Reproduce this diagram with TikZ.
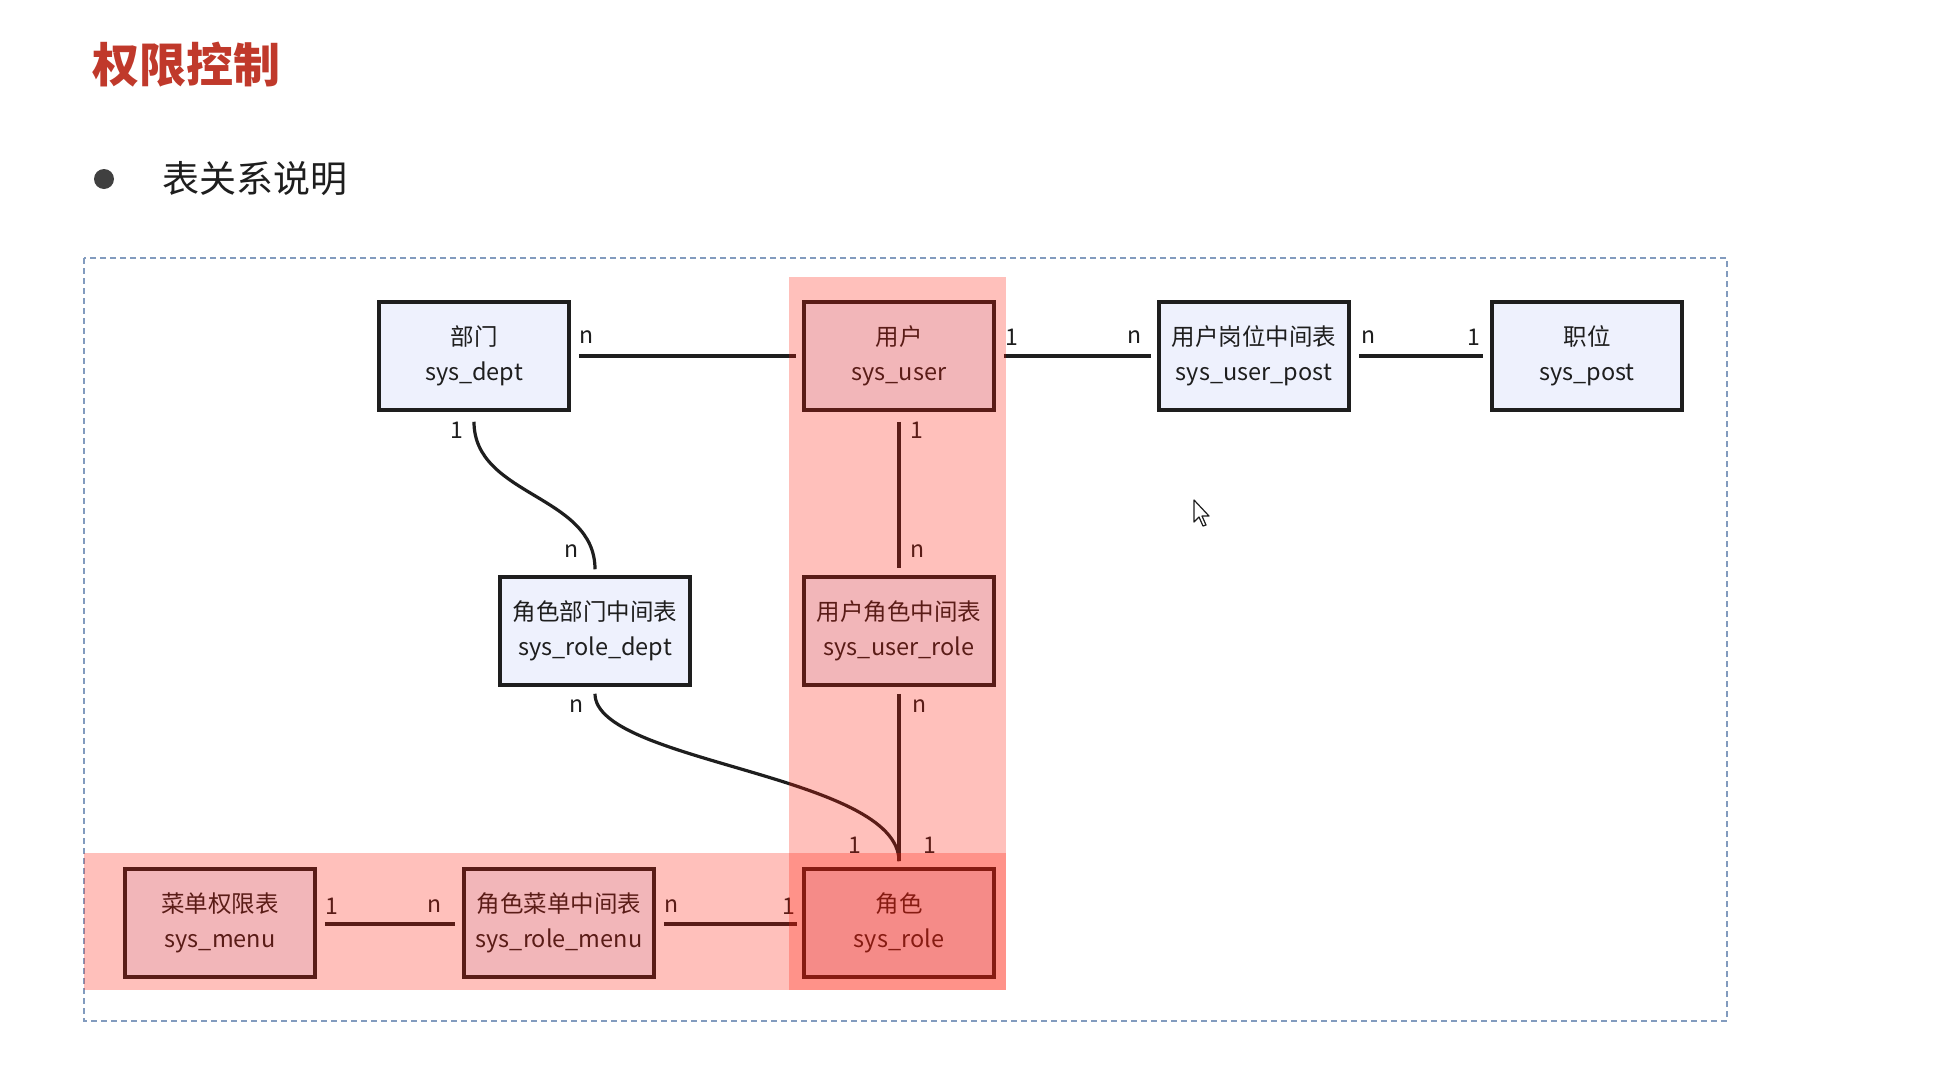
\documentclass[tikz,border=0pt]{standalone}
\usepackage{fontspec}
\setmainfont{Noto Sans CJK SC}
\newfontfamily\cjk{Noto Sans CJK SC}
\usetikzlibrary{calc}
\definecolor{boxblue}{RGB}{238,241,253}
\definecolor{titlered}{RGB}{192,57,43}
\definecolor{dashblue}{RGB}{130,155,190}
\definecolor{ink}{RGB}{30,30,30}
\definecolor{hired}{RGB}{255,25,5}
\tikzset{
  tbl/.style={draw=ink, line width=3.5pt, fill=boxblue, minimum width=190pt, minimum height=108pt,
    inner sep=0pt, align=center, text=ink, font=\cjk\fontsize{23.5}{35}\selectfont},
  card/.style={text=ink, inner sep=0pt, font=\cjk\fontsize{23}{26}\selectfont},
  rel/.style={draw=ink, line width=3.2pt},
  hilite/.style={fill=hired, opacity=0.27, draw=none},
}
\begin{document}
\begin{tikzpicture}[x=1pt,y=-1pt]
\useasboundingbox (0,0) rectangle (1955,1074);
\fill[white] (0,0) rectangle (1955,1074);
% title
\node[anchor=west, inner sep=0pt, text=titlered, font=\cjk\bfseries\fontsize{47}{50}\selectfont] (title) at (92,65) {权限控制};
\fill[ink!85] (104,179) circle (10pt);
\node[anchor=west, inner sep=0pt, text=ink, font=\cjk\fontsize{37}{40}\selectfont] (sub) at (162,179) {表关系说明};
% frame
\draw[dashblue, line width=1.5pt, dash pattern=on 6pt off 4pt] (84,258) rectangle (1727,1021);
% tables
\node[tbl] (dept) at (474,356) {部门\\sys\_dept};
\node[tbl] (user) at (899,356) {用户\\sys\_user};
\node[tbl] (up) at (1254,356) {用户岗位中间表\\sys\_user\_post};
\node[tbl] (post) at (1587,356) {职位\\sys\_post};
\node[tbl] (rd) at (595,631) {角色部门中间表\\sys\_role\_dept};
\node[tbl] (ur) at (899,631) {用户角色中间表\\sys\_user\_role};
\node[tbl] (menu) at (220,923) {菜单权限表\\sys\_menu};
\node[tbl] (rm) at (559,923) {角色菜单中间表\\sys\_role\_menu};
\node[tbl] (role) at (899,923) {角色\\sys\_role};
% relations
\draw[rel] ($(dept.east)+(8,0)$) -- ($(user.west)+(-6,0)$);
\draw[rel] ($(user.east)+(8,0)$) -- ($(up.west)+(-6,0)$);
\draw[rel] ($(up.east)+(8,0)$) -- ($(post.west)+(-7,0)$);
\draw[rel] ($(user.south)+(0,10)$) -- ($(ur.north)+(0,-7)$);
\draw[rel] ($(ur.south)+(0,7)$) -- ($(role.north)+(0,-6)$);
\draw[rel] ($(dept.south)+(0,10)$) .. controls ($(dept.south)+(0,85)$) and ($(rd.north)+(0,-81)$) .. ($(rd.north)+(0,-6)$);
\draw[rel] ($(rd.south)+(0,7)$) .. controls ($(rd.south)+(0,76)$) and ($(role.north)+(0,-93)$) .. ($(role.north)+(0,-6)$);
\draw[rel] ($(menu.east)+(8,1)$) -- ($(rm.west)+(-7,1)$);
\draw[rel] ($(rm.east)+(8,1)$) -- ($(role.west)+(-5,1)$);
% cardinalities
\node[card] (c1) at (587,337) {n};
\node[card] (c2) at (1012,337) {1};
\node[card] (c3) at (1135,337) {n};
\node[card] (c4) at (1369,337) {n};
\node[card] (c5) at (1474,337) {1};
\node[card] (c6) at (457,430) {1};
\node[card] (c7) at (572,551) {n};
\node[card] (c8) at (917,430) {1};
\node[card] (c9) at (918,551) {n};
\node[card] (c10) at (577,706) {n};
\node[card] (c11) at (920,706) {n};
\node[card] (c12) at (855,845) {1};
\node[card] (c13) at (930,845) {1};
\node[card] (c14) at (332,906) {1};
\node[card] (c15) at (435,906) {n};
\node[card] (c16) at (672,906) {n};
\node[card] (c17) at (789,906) {1};
% highlights
\fill[hilite] (789,277) rectangle (1006,990);
\fill[hilite] (84,853) rectangle (1006,990);
% mouse pointer
\filldraw[fill=white, draw=ink, line width=1.2pt, line join=round]
  (1194,500) -- (1194,522) -- (1199,517) -- (1203,526) -- (1206,525) -- (1202,516) -- (1209,516) -- cycle;
\end{tikzpicture}
\end{document}
